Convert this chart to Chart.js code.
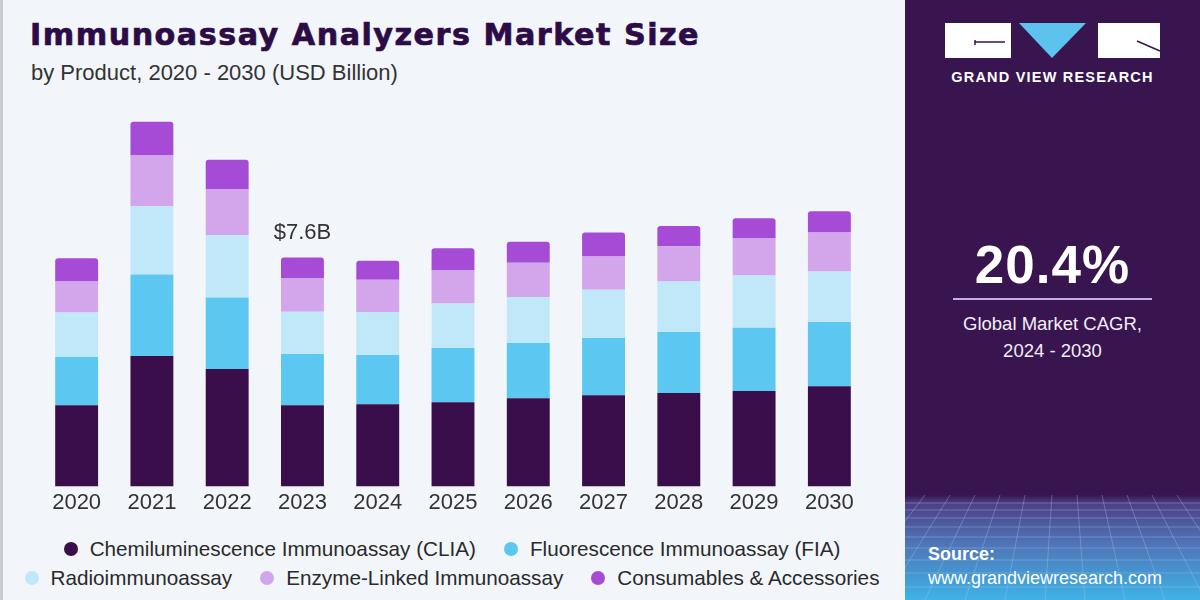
<!DOCTYPE html>
<html>
<head>
<meta charset="utf-8">
<script src="https://cdn.jsdelivr.net/npm/chart.js@4.4.0/dist/chart.umd.min.js"></script>
<style>
  body { margin: 0; width: 1200px; height: 600px; overflow: hidden; background: #f2f6fa; font-family: "Liberation Sans", Arial, sans-serif; position: relative; }
  #leftEdge { position: absolute; left: 0; top: 0; width: 3px; height: 600px; background: #c9cbd0; }
  #title { position: absolute; left: 30px; top: 17px; font-family: "DejaVu Sans", sans-serif; font-weight: bold; font-size: 30.2px; color: #2c0b47; white-space: nowrap; letter-spacing: 1.5px; -webkit-text-stroke: 0.7px #2c0b47; }
  #subtitle { position: absolute; left: 31px; top: 60px; font-size: 22px; color: #333; white-space: nowrap; }
  #chartBox { position: absolute; left: 0; top: 100px; width: 905px; height: 425px; }
  #legend { position: absolute; left: 12px; top: 534px; width: 880px; display: flex; flex-wrap: wrap; justify-content: center; column-gap: 28px; }
  .item { display: flex; align-items: center; height: 29px; font-size: 20.7px; color: #2a2a2a; white-space: nowrap; }
  .dot { width: 14px; height: 14px; border-radius: 50%; margin-right: 12px; }
  #panel { position: absolute; left: 905px; top: 0; width: 295px; height: 600px; background: #38154f; overflow: hidden; }
  #panel svg { position: absolute; left: 0; top: 0; }
  #brand { position: absolute; left: 0; width: 295px; top: 69px; text-align: center; color: #fff; font-weight: bold; font-size: 14.5px; letter-spacing: 1.2px; }
  #cagr { position: absolute; left: 0; width: 295px; top: 234px; text-align: center; color: #fff; font-weight: bold; font-size: 53px; letter-spacing: 1px; }
  #rule { position: absolute; left: 48px; width: 199px; top: 298px; height: 2px; background: #c9a8e6; }
  #cagrText { position: absolute; left: 0; width: 295px; top: 310px; text-align: center; color: #f3eef8; font-size: 18.5px; line-height: 27px; }
  #source { position: absolute; left: 23px; top: 542px; color: #fff; font-size: 18px; line-height: 24px; }
</style>
</head>
<body>
<div id="leftEdge"></div>
<div id="title">Immunoassay Analyzers Market Size</div>
<div id="subtitle">by Product, 2020 - 2030 (USD Billion)</div>
<div id="chartBox"><canvas id="marketChart"></canvas></div>
<div id="legend"></div>

<div id="panel">
  <svg width="295" height="600" viewBox="0 0 295 600">
    <defs>
      <linearGradient id="floor" x1="0" y1="0" x2="0" y2="1">
        <stop offset="0" stop-color="#38154f"/>
        <stop offset="0.08" stop-color="#4e3f86"/>
        <stop offset="0.45" stop-color="#4f73b6"/>
        <stop offset="1" stop-color="#3fb3e6"/>
      </linearGradient>
    </defs>
    <!-- logo -->
    <rect x="40" y="23" width="66" height="35" fill="#fff"/>
    <path d="M70 42 H100 M70 40 V45" stroke="#38154f" stroke-width="1.5" fill="none"/>
    <polygon points="114,23 181,23 147,58" fill="#5cc3ef"/>
    <rect x="193" y="23" width="62" height="35" fill="#fff"/>
    <path d="M232 41 L255 51" stroke="#38154f" stroke-width="1.5" fill="none"/>
    <!-- bottom grid floor -->
    <rect x="0" y="495" width="295" height="105" fill="url(#floor)"/>
    <g stroke="#a9c8f0" stroke-opacity="0.35" stroke-width="1" fill="none">
      <path d="M0 503 H295 M0 510 H295 M0 518 H295 M0 527 H295 M0 537 H295 M0 548 H295 M0 560 H295 M0 573 H295 M0 587 H295"/>
      <path d="M-60 600 L20 495 M-20 600 L45 495 M20 600 L70 495 M60 600 L95 495 M100 600 L120 495 M140 600 L147 495 M180 600 L172 495 M220 600 L197 495 M260 600 L222 495 M300 600 L247 495 M340 600 L272 495"/>
    </g>
  </svg>
  <div id="brand">GRAND VIEW RESEARCH</div>
  <div id="cagr">20.4%</div>
  <div id="rule"></div>
  <div id="cagrText">Global Market CAGR,<br>2024 - 2030</div>
  <div id="source"><b>Source:</b><br>www.grandviewresearch.com</div>
</div>

<script>
// categories
const years = ['2020', '2021', '2022', '2023', '2024', '2025', '2026', '2027', '2028', '2029', '2030'];

// segment values, USD billion
const clia = [2.70, 4.33, 3.90, 2.70, 2.73, 2.80, 2.93, 3.03, 3.10, 3.17, 3.33];
const fia = [1.60, 2.70, 2.37, 1.70, 1.63, 1.80, 1.83, 1.90, 2.03, 2.10, 2.13];
const radio = [1.47, 2.27, 2.07, 1.40, 1.43, 1.47, 1.53, 1.60, 1.67, 1.73, 1.67];
const elisa = [1.03, 1.70, 1.53, 1.10, 1.07, 1.10, 1.13, 1.10, 1.17, 1.23, 1.30];
const consumables = [0.77, 1.10, 0.97, 0.70, 0.63, 0.73, 0.70, 0.80, 0.67, 0.67, 0.70];

const seriesNames = ['Chemiluminescence Immunoassay (CLIA)', 'Fluorescence Immunoassay (FIA)', 'Radioimmunoassay', 'Enzyme-Linked Immunoassay', 'Consumables & Accessories'];
const seriesColors = ['#3a0e4a', '#5cc8f1', '#c0e8f9', '#d3a5eb', '#a64bd6'];
const seriesData = [clia, fia, radio, elisa, consumables];

// only 2023 carries a total label
const labelYear = '2023';
const labelText = '$7.6B';

const datasets = seriesData.map((d, i) => ({
    label: seriesNames[i],
    data: d,
    backgroundColor: seriesColors[i],
    borderWidth: 0,
    borderRadius: i === seriesData.length - 1 ? { topLeft: 3, topRight: 3 } : 0,
    borderSkipped: false,
    barPercentage: 0.57,
    categoryPercentage: 1
}));

// total label above one stack
const totalLabel = {
    id: 'totalLabel',
    afterDatasetsDraw(chart) {
        const idx = years.indexOf(labelYear);
        const top = chart.getDatasetMeta(seriesData.length - 1).data[idx];
        const ctx = chart.ctx;
        ctx.save();
        ctx.font = '22px "Liberation Sans", Arial, sans-serif';
        ctx.fillStyle = '#333';
        ctx.textAlign = 'center';
        ctx.textBaseline = 'middle';
        ctx.fillText(labelText, top.x, top.y - 24);
        ctx.restore();
    }
};

const ctx = document.getElementById('marketChart').getContext('2d');
new Chart(ctx, {
    type: 'bar',
    data: { labels: years, datasets: datasets },
    options: {
        responsive: true,
        maintainAspectRatio: false,
        animation: false,
        layout: { padding: { left: 39, right: 38, top: 0, bottom: 6 } },
        plugins: {
            legend: { display: false },
            tooltip: { enabled: false }
        },
        scales: {
            x: {
                stacked: true,
                grid: { display: false, drawTicks: false },
                border: { display: false },
                ticks: {
                    color: '#333',
                    padding: 3,
                    font: { size: 22, family: '"Liberation Sans", Arial, sans-serif' }
                }
            },
            y: {
                stacked: true,
                display: false,
                min: 0,
                max: 12.82
            }
        }
    },
    plugins: [totalLabel]
});

// legend
const legend = document.getElementById('legend');
seriesNames.forEach((name, i) => {
    const item = document.createElement('div');
    item.className = 'item';
    item.innerHTML = '<span class="dot" style="background:' + seriesColors[i] + '"></span>' + name;
    legend.appendChild(item);
});
</script>
</body>
</html>
